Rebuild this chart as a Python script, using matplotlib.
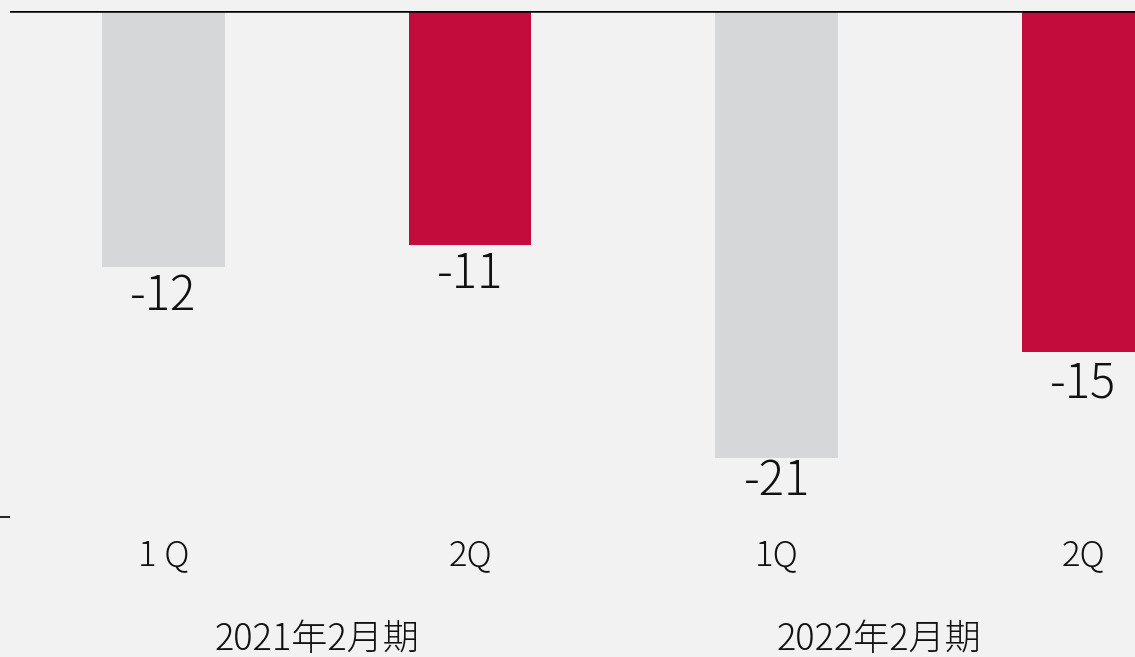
import matplotlib
matplotlib.use("Agg")
import matplotlib.pyplot as plt

plt.rcParams['font.family'] = ['Noto Sans CJK JP', 'DejaVu Sans']

# data
quarters = ["1 Q", "2Q", "1Q", "2Q"]
bar_values = [-12, -11, -21, -16]
value_labels = ["-12", "-11", "-21", "-15"]
periods = ["2021年2月期", "2022年2月期"]
bar_colors = ["#d6d7d9", "#c40c3c", "#d6d7d9", "#c40c3c"]

fig = plt.figure(figsize=(11.35, 6.57), dpi=100)
fig.patch.set_facecolor("#f2f2f2")
# plot area runs past the right edge of the picture, like the original
ax = fig.add_axes([10 / 1135, 140 / 657, 1226.7 / 1135, 506 / 657])
ax.set_facecolor("#f2f2f2")

x = list(range(len(quarters)))
ax.bar(x, bar_values, width=0.4, color=bar_colors)
ax.axhline(0, color="black", lw=1.8, zorder=3)

# label gap under each bar (points); the -21 one sits tight to its bar
label_gap = [-3.7, -3.7, 1.3, -5.8]
for xi, v, lab, g in zip(x, bar_values, value_labels, label_gap):
    ax.annotate(lab, (xi, v), xytext=(0, g), textcoords="offset points",
                ha="center", va="top", fontsize=34, fontweight="light",
                color="#111111")

for xi, q in zip(x, quarters):
    ax.text(xi, -0.076, q, transform=ax.get_xaxis_transform(),
            ha="center", va="center", fontsize=25, fontweight="light",
            color="#111111")

# period labels centred on the visible part of each group
ax.text(0.5, -0.243, periods[0], transform=ax.get_xaxis_transform(),
        ha="center", va="center", fontsize=26, fontweight="light",
        color="#111111")
ax.text(2.333, -0.243, periods[1], transform=ax.get_xaxis_transform(),
        ha="center", va="center", fontsize=26, fontweight="light",
        color="#111111")

ax.set_xlim(-0.5, 3.5)
ax.set_ylim(-23.75, 0)
for s in ax.spines.values():
    s.set_visible(False)
ax.set_xticks([])
ax.set_yticks([-23.75])
ax.set_yticklabels([])
ax.tick_params(axis="y", length=7.5, width=1.2, color="black")

fig.savefig("out.png", dpi=100, facecolor=fig.get_facecolor())
